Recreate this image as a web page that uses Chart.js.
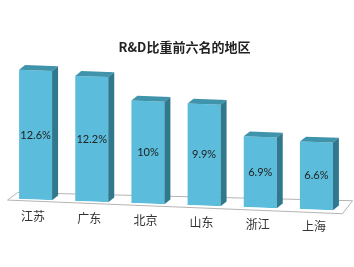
<!DOCTYPE html>
<html>
<head>
<meta charset="utf-8">
<script src="https://cdn.jsdelivr.net/npm/chart.js@4.4.0/dist/chart.umd.min.js"></script>
<style>
  body { margin: 0; background: #fff; }
</style>
</head>
<body>
<canvas id="myChart" width="354" height="267"></canvas>
<script>
const regions = ["江苏", "广东", "北京", "山东", "浙江", "上海"];
const shares = [12.6, 12.2, 10, 9.9, 6.9, 6.6];
const chartTitle = "R&D比重前六名的地区";

// floor tilts down to the right a little
const tilt = 0.036;
const depthX = 6, depthY = -5;

const fakeThreeD = {
  id: "fakeThreeD",
  beforeDatasetsDraw(chart) {
    const ctx = chart.ctx;
    const area = chart.chartArea;
    const x0 = chart.getDatasetMeta(0).data[0].x;
    const yBase = chart.scales.y.getPixelForValue(0);
    const sk = (x) => tilt * (x - x0);

    // floor
    ctx.save();
    ctx.beginPath();
    ctx.moveTo(area.left, yBase + sk(area.left) + 1.5);
    ctx.lineTo(area.right - 2, yBase + sk(area.right) + 3);
    ctx.lineTo(area.right + 8, yBase + sk(area.right) - 10);
    ctx.lineTo(area.left + 10, yBase + sk(area.left) - 6);
    ctx.closePath();
    ctx.fillStyle = "#ffffff";
    ctx.fill();
    ctx.strokeStyle = "#b4b4b4";
    ctx.lineWidth = 1;
    ctx.stroke();
    ctx.restore();

    ctx.save();
    ctx.transform(1, tilt, 0, 1, 0, -tilt * x0);
  },
  afterDatasetsDraw(chart) {
    const ctx = chart.ctx;
    const bars = chart.getDatasetMeta(0).data;
    bars.forEach((b) => {
      const l = b.x - b.width / 2, r = b.x + b.width / 2;
      // top face
      ctx.beginPath();
      ctx.moveTo(l, b.y);
      ctx.lineTo(l + depthX, b.y + depthY);
      ctx.lineTo(r + depthX, b.y + depthY);
      ctx.lineTo(r, b.y);
      ctx.closePath();
      ctx.fillStyle = "#3f93ab";
      ctx.fill();
      // side face
      ctx.beginPath();
      ctx.moveTo(r, b.y);
      ctx.lineTo(r + depthX, b.y + depthY);
      ctx.lineTo(r + depthX, b.base + depthY);
      ctx.lineTo(r, b.base);
      ctx.closePath();
      ctx.fillStyle = "#2f788e";
      ctx.fill();
    });
    ctx.restore();

    const x0 = bars[0].x;
    ctx.save();
    ctx.textAlign = "center";
    ctx.textBaseline = "middle";
    bars.forEach((b, i) => {
      const off = tilt * (b.x - x0);
      ctx.fillStyle = "#222";
      ctx.font = "11px Lato";
      ctx.fillText(shares[i] + "%", b.x, (b.y + b.base) / 2 + off);
      ctx.fillStyle = "#333";
      ctx.font = "12px 'Noto Sans CJK SC'";
      ctx.fillText(regions[i], b.x - 2.5, b.base + 17 + off);
    });
    ctx.fillStyle = "#222";
    ctx.font = "bold 13px 'Noto Sans CJK SC'";
    ctx.fillText(chartTitle, 184.5, 47);
    ctx.restore();
  },
};

const ctx = document.getElementById("myChart").getContext("2d");
const myChart = new Chart(ctx, {
  type: "bar",
  data: {
    labels: regions,
    datasets: [
      {
        label: "R&D",
        data: shares,
        backgroundColor: "#5bbcdc",
        borderWidth: 0,
        barPercentage: 1,
        categoryPercentage: 0.587,
      },
    ],
  },
  options: {
    responsive: false,
    animation: false,
    layout: {
      padding: { left: 7.5, right: 9.5, top: 56, bottom: 67.4 },
    },
    plugins: {
      legend: { display: false },
      title: { display: false },
      tooltip: { enabled: false },
    },
    scales: {
      x: { display: false },
      y: { display: false, min: 0, max: 14 },
    },
  },
  plugins: [fakeThreeD],
});
</script>
</body>
</html>
